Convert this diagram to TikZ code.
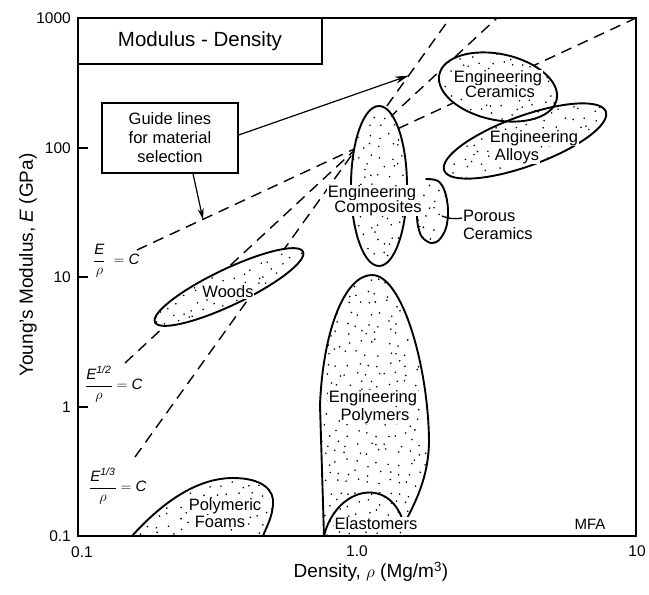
\documentclass[tikz,border=0pt]{standalone}
\usepackage{fontspec}
\setmainfont{Liberation Sans}
\usetikzlibrary{arrows.meta,calc}

% scattered stipple dots over a box (x0,y0)-(x1,y1), jittered grid
\newcommand\speckle[4]{%
  \pgfmathtruncatemacro\spkx{(#3-#1)/10}%
  \pgfmathtruncatemacro\spky{(#4-#2)/10}%
  \foreach \i in {0,...,\spkx}{%
    \foreach \j in {0,...,\spky}{%
      \fill ({#1+10*\i+4*rand},{#2+10*\j+4*rand}) circle[radius=0.9pt];
    }}}

% white region with stipple: transform, path, stipple box
\newcommand\blobfill[6]{%
  \begin{scope}[#1]
    \fill[white] #2;
    \begin{scope}
      \clip #2;
      \speckle{#3}{#4}{#5}{#6}
    \end{scope}
  \end{scope}}

\newcommand\blobedge[2]{%
  \begin{scope}[#1]
    \draw[blobline] #2;
  \end{scope}}

\begin{document}
\begin{tikzpicture}[x=1pt,y=-1pt,
  blobline/.style={line width=1.9pt,line join=round,line cap=round},
  guideline/.style={dash pattern=on 11pt off 7pt,line width=1.4pt},
  lbl/.style={fill=white,inner sep=0.8pt,font=\fontsize{16.5}{18}\selectfont},
  ticklbl/.style={inner sep=0pt,font=\fontsize{15.5}{17}\selectfont},
  axislbl/.style={inner sep=0pt,font=\fontsize{19}{22}\selectfont},
  frm/.style={inner sep=0pt,font=\fontsize{15}{17}\selectfont},
  boxed/.style={draw,line width=1.4pt,inner sep=0pt},
  pointer/.style={line width=1.2pt,-{Stealth[length=14pt,width=7pt]}}]

\useasboundingbox (0,0) rectangle (649,595);
\pgfmathsetseed{7}

% ---- constant-index guide lines through (rho=1, E=100)
\coordinate (hub) at (357,148);
\draw[guideline] (137,250) -- (636,18);
\draw[guideline] (125,363) -- (497,18);
\draw[guideline] (135,457) -- (450,18);

% ---- material property regions
\def\woods{(229,287) ellipse [x radius=82, y radius=18]}
\def\ceramics{(498,87) ellipse [x radius=60, y radius=33]}
\def\alloys{(525,141) ellipse [x radius=86, y radius=25]}
\def\composites{(379,186) ellipse [x radius=28, y radius=80]}
\def\porous{(432,210) ellipse [x radius=15, y radius=32]}
\def\polymers{(324,536) -- (320,405) .. controls (323,330) and (345,275) .. (372,275)
   .. controls (402,275) and (428,365) .. (429,440)
   .. controls (429,478) and (414,505) .. (404,524) -- (400,536) -- cycle}
\def\foams{(132,536) .. controls (160,505) and (195,478) .. (233,478)
   .. controls (262,478) and (275,490) .. (273,505)
   .. controls (272,518) and (266,528) .. (263,536) -- cycle}

\blobfill{rotate around={25.5:(229,287)}}{\woods}{147}{269}{311}{305}
\blobfill{rotate around={-12:(498,87)}}{\ceramics}{438}{54}{558}{120}
\blobfill{rotate around={20:(525,141)}}{\alloys}{439}{116}{611}{166}
\blobfill{}{\composites}{351}{106}{407}{266}
\blobfill{}{\porous}{417}{178}{447}{242}
\blobfill{}{\polymers}{318}{273}{432}{536}
\blobfill{}{\foams}{130}{476}{276}{536}

\blobedge{rotate around={25.5:(229,287)}}{\woods}
\blobedge{rotate around={-12:(498,87)}}{\ceramics}
\blobedge{rotate around={20:(525,141)}}{\alloys}
\blobedge{}{\composites}
\draw[blobline] plot[smooth,tension=0.6] coordinates {(426,179) (438,181) (445,192) (448,210)
  (446,228) (439,240) (431,243) (422,237) (418,226) (417,216)};
\draw[blobline] (324,536) -- (320,405) .. controls (323,330) and (345,275) .. (372,275)
   .. controls (402,275) and (428,365) .. (429,440)
   .. controls (429,478) and (414,505) .. (404,524);
\draw[blobline] (324,536) .. controls (335,490) and (385,475) .. (402,518);
\draw[blobline] (132,536) .. controls (160,505) and (195,478) .. (233,478)
   .. controls (262,478) and (275,490) .. (273,505)
   .. controls (272,518) and (266,528) .. (263,536);

% ---- region labels
\node[lbl] (woodsl) at (228,292) {Woods};
\node[lbl] (cer1) at (498,78) {Engineering};
\node[lbl] (cer2) at (500,92) {Ceramics};
\node[lbl] (all1) at (534,138) {Engineering};
\node[lbl] (all2) at (517,156) {Alloys};
\node[lbl] (com1) at (372,193) {Engineering};
\node[lbl] (com2) at (378,208) {Composites};
\node[lbl] (pol1) at (373,398) {Engineering};
\node[lbl] (pol2) at (375,416) {Polymers};
\node[lbl] (fo1) at (225,506) {Polymeric};
\node[lbl] (fo2) at (220,522) {Foams};
\node[lbl] (ela) at (376,524) {Elastomers};
\node[lbl,fill=none,anchor=west,align=left] (por) at (462,225) {Porous\\Ceramics};
\coordinate (porin) at (442,216);
\draw[line width=1.3pt] (porin) to[bend right=15] (por.west |- 0,218);

% ---- guide line equations
\node[frm,anchor=west] (f1) at (93,261)
  {$\displaystyle\frac{\mbox{\itshape E}}{\rho}\;=\mbox{\itshape C}$};
\node[frm,anchor=west] (f2) at (85,384)
  {$\displaystyle\frac{\mbox{\itshape E}^{\mbox{\fontsize{10.5}{11}\selectfont\itshape 1/2}}}{\rho}=\mbox{\itshape C}$};
\node[frm,anchor=west] (f3) at (89,486)
  {$\displaystyle\frac{\mbox{\itshape E}^{\mbox{\fontsize{10.5}{11}\selectfont\itshape 1/3}}}{\rho}=\mbox{\itshape C}$};

% ---- title and guide-line callout
\node[boxed,minimum width=244pt,minimum height=46pt,font=\fontsize{20.5}{24}\selectfont]
  (title) at (200,41) {Modulus - Density};
\node[boxed,fill=white,minimum width=136pt,minimum height=70pt,align=center,
  font=\fontsize{16.5}{19}\selectfont] (callout) at (170,138)
  {Guide lines\\for material\\selection};
\coordinate (tipA) at (409,75.5);
\coordinate (tipB) at (203,219.5);
\draw[pointer] ($(callout.east)+(0,-3)$) -- (tipA);
\draw[pointer,-{Stealth[length=11pt,width=6pt]}] ($(callout.south)+(23,0)$) -- (tipB);

% ---- frame, ticks and scales
\draw[line width=1.7pt] (78,18) rectangle (636,536);
\foreach \yy in {148,277,407} \draw[line width=1.4pt] (78,\yy) -- (88,\yy);

\node[ticklbl,anchor=east] (y1000) at (71,18) {1000};
\node[ticklbl,anchor=east] (y100) at (71,148) {100};
\node[ticklbl,anchor=east] (y10) at (71,277) {10};
\node[ticklbl,anchor=east] (y1) at (71,407) {1};
\node[ticklbl,anchor=east] (y01) at (71,536) {0.1};
\node[ticklbl] (x01) at (82,552) {0.1};
\node[ticklbl] (x1) at (357,551) {1.0};
\node[ticklbl] (x10) at (637,551) {10};
\node[inner sep=0pt,font=\fontsize{15}{17}\selectfont] (mfa) at (590,524) {MFA};

\node[axislbl] (xlab) at (371,572) {Density, $\rho$ (Mg/m\textsuperscript{3})};
\node[axislbl,rotate=90] (ylab) at (28,265) {Young's Modulus, \textit{E} (GPa)};
\end{tikzpicture}
\end{document}
